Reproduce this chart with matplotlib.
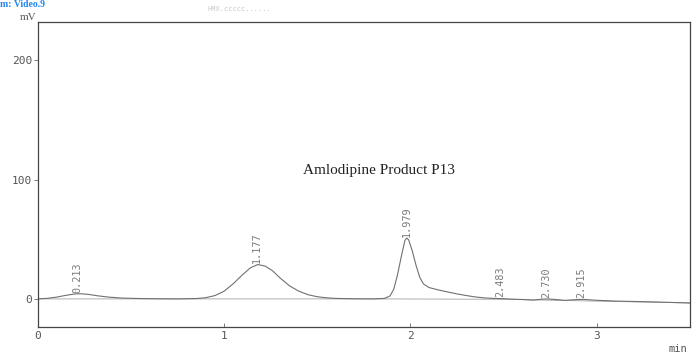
import matplotlib
matplotlib.use("Agg")
import matplotlib.pyplot as plt

# Chromatogram trace (time in min, signal in mV)
trace_t = [0.00, 0.05, 0.10, 0.15, 0.20, 0.23, 0.27, 0.32, 0.38, 0.45, 0.55, 0.65, 0.75,
           0.85, 0.90, 0.95, 1.00, 1.05, 1.10, 1.14, 1.18, 1.22, 1.26, 1.30, 1.35, 1.40,
           1.45, 1.50, 1.55, 1.60, 1.70, 1.80, 1.86, 1.89, 1.91, 1.93, 1.95, 1.97, 1.98,
           1.99, 2.01, 2.03, 2.05, 2.07, 2.10, 2.15, 2.20, 2.25, 2.30, 2.35, 2.40, 2.45,
           2.48, 2.52, 2.60, 2.66, 2.70, 2.73, 2.78, 2.83, 2.90, 2.93, 2.98, 3.10, 3.30, 3.50]
trace_mv = [0.0, 0.5, 1.5, 3.0, 4.2, 4.3, 3.8, 2.6, 1.5, 0.7, 0.3, 0.1, 0.0,
            0.3, 1.0, 2.8, 6.5, 13.0, 20.5, 26.0, 28.8, 27.5, 23.5, 17.5, 11.0, 6.5,
            3.5, 1.8, 0.9, 0.4, 0.1, 0.0, 0.4, 2.5, 8.0, 20.0, 35.0, 49.0, 51.0,
            49.5, 40.0, 28.0, 18.0, 12.5, 9.5, 7.5, 5.8, 4.2, 2.8, 1.6, 0.8, 0.4,
            0.3, 0.0, -0.5, -1.0, -0.3, 0.0, -0.5, -1.2, -0.5, -0.4, -1.0, -1.8, -2.5, -3.4]

# Baseline drawn under the peaks
base_t = [0.0, 1.85, 2.50, 3.50]
base_mv = [0.0, 0.0, -0.3, -3.4]

# Peak labels (retention times) and the label anchor heights
peak_rt = [0.213, 1.177, 1.979, 2.483, 2.730, 2.915]
peak_labels = ["0.213", "1.177", "1.979", "2.483", "2.730", "2.915"]
peak_h = [4.3, 28.8, 51.0, 0.3, 0.0, -0.4]

x_ticks = [0, 1, 2, 3]
y_ticks = [0, 100, 200]

fig = plt.figure(figsize=(6.92, 3.55), dpi=100)
ax = fig.add_axes([0.0549, 0.079, 0.942, 0.859])

ax.plot(base_t, base_mv, color="#a0a0a0", lw=0.6)
ax.plot(trace_t, trace_mv, color="#707070", lw=0.8)

for rt, h, lab in zip(peak_rt, peak_h, peak_labels):
    ax.text(rt, h + 1.0, lab, rotation=90, ha="center", va="bottom",
            fontsize=7.3, family="DejaVu Sans Mono", color="#7a7a7a")

ax.text(1.83, 108, "Amlodipine Product P13", ha="center", va="center",
        fontsize=11, family="Liberation Serif", color="#222222")

ax.set_xlim(0, 3.5)
ax.set_ylim(-23.5, 232)
ax.set_xticks(x_ticks)
ax.set_yticks(y_ticks)
ax.set_xticklabels([str(v) for v in x_ticks], family="DejaVu Sans Mono", fontsize=8, color="#555555")
ax.set_yticklabels([str(v) for v in y_ticks], family="DejaVu Sans Mono", fontsize=8, color="#555555")
ax.tick_params(axis="y", direction="out", length=3, width=0.6, color="#666666", pad=1)
ax.tick_params(axis="x", direction="in", length=3, width=0.6, color="#666666", pad=3)
for s in ax.spines.values():
    s.set_color("#444444")
    s.set_linewidth(0.9)

fig.text(0.041, 0.952, "mV", ha="center", va="center", family="Liberation Serif",
         fontsize=8, color="#555555")
fig.text(0.98, 0.004, "min", ha="center", va="bottom", family="DejaVu Sans Mono",
         fontsize=7.5, color="#555555")

# Scanned header fragments at the top edge
fig.text(0.0, 0.999, "m: Video.9", ha="left", va="top", family="Liberation Serif",
         fontsize=7, fontweight="bold", color="#1f86f0")
fig.text(0.30, 0.975, "HMX.ccccc......", ha="left", va="center", family="DejaVu Sans Mono",
         fontsize=5, color="#c8c8c8")

fig.savefig("out.png", dpi=100)
